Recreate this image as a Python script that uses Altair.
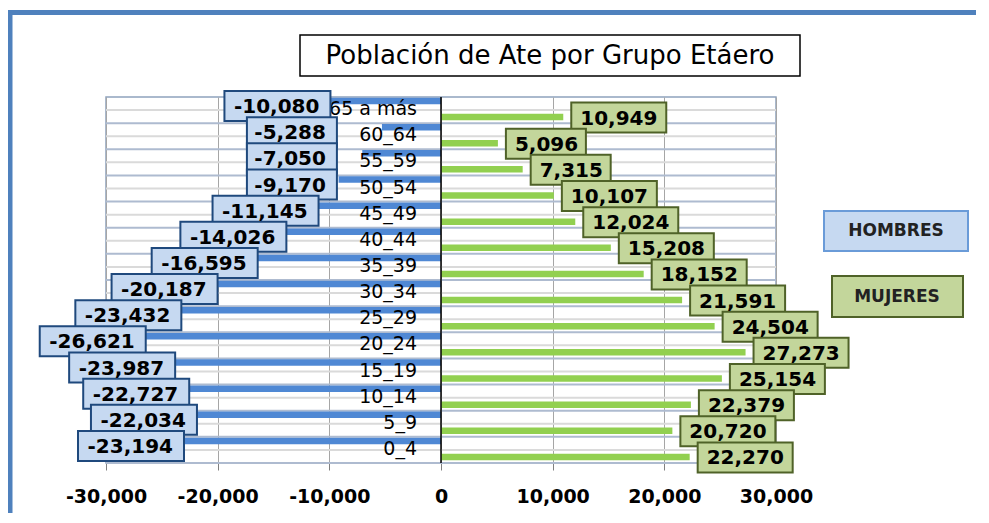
import altair as alt
import pandas as pd

# ---------------- data ----------------
cats = ["65 a más", "60_64", "55_59", "50_54", "45_49", "40_44", "35_39",
        "30_34", "25_29", "20_24", "15_19", "10_14", "5_9", "0_4"]
hombres = [-10080, -5288, -7050, -9170, -11145, -14026, -16595,
           -20187, -23432, -26621, -23987, -22727, -22034, -23194]
mujeres = [10949, 5096, 7315, 10107, 12024, 15208, 18152,
           21591, 24504, 27273, 25154, 22379, 20720, 22270]
series_names = ["HOMBRES", "MUJERES"]
x_ticks = [-30000, -20000, -10000, 0, 10000, 20000, 30000]
title_text = "Población de Ate por Grupo Etáero"

# ---------------- tables ----------------
rows = []
for c, h, m in zip(cats, hombres, mujeres):
    rows.append({"cat": c, "value": h, "series": "HOMBRES", "label": f"{h:,}", "nch": str(len(f"{h:,}"))})
    rows.append({"cat": c, "value": m, "series": "MUJERES", "label": f"{m:,}", "nch": str(len(f"{m:,}"))})
long = pd.DataFrame(rows)
cat_df = pd.DataFrame({"cat": cats})
one = pd.DataFrame({"k": [0]})

W, H = 670, 366
BAND = H / len(cats)

BLUE = "#4f88d4"
GREEN = "#92d050"
BLUE_BOX = "#c6d9f1"
BLUE_EDGE = "#1f497d"
GREEN_BOX = "#c3d69b"
GREEN_EDGE = "#4f6228"

xscale = alt.Scale(domain=[-30000, 30000], nice=False, zero=False)
xaxis = alt.Axis(
    values=x_ticks, grid=True, gridColor="#a6a6a6", gridWidth=1,
    domain=False, ticks=True, tickColor="#808080", tickSize=7,
    labelFont="DejaVu Sans", labelFontWeight="bold", labelFontSize=19,
    labelColor="black", labelPadding=17, title=None,
    labelOverlap=False, labelFlush=False,
    labelExpr="(datum.value < 0 ? '-' : '') + format(abs(datum.value), ',')",
)
xenc = alt.X("value:Q", scale=xscale, axis=xaxis)
xanchor = alt.X("anchor:Q", scale=xscale, axis=xaxis)
yenc = alt.Y("cat:N", scale=alt.Scale(domain=cats, paddingInner=0, paddingOuter=0), axis=None)

# background stripes
stripe_center = alt.Chart(cat_df).mark_rule(color="#dadada", strokeWidth=2).encode(
    y=yenc, x=alt.value(0), x2=alt.value(W)
)
stripe_edge = alt.Chart(cat_df).mark_rule(color="#aebbd0", strokeWidth=2, yOffset=BAND / 2).encode(
    y=yenc, x=alt.value(0), x2=alt.value(W)
)

bars_h = alt.Chart(long).transform_filter(alt.datum.series == "HOMBRES").mark_bar(
    height=6.5, yOffset=-9, color=BLUE
).encode(x=xenc, y=yenc)
bars_m = alt.Chart(long).transform_filter(alt.datum.series == "MUJERES").mark_bar(
    height=6.5, yOffset=7, color=GREEN
).encode(x=xenc, y=yenc)

zero_line = alt.Chart(one).mark_rule(color="black", strokeWidth=1.5).encode(x=alt.datum(0))

cat_labels = alt.Chart(cat_df).mark_text(
    align="right", baseline="middle", dx=-24, dy=-1,
    font="DejaVu Sans", fontSize=19, color="black"
).encode(x=alt.datum(0), y=yenc, text="cat:N")

hom = alt.Chart(long).transform_filter(alt.datum.series == "HOMBRES").transform_calculate(
    anchor="min(datum.value, -9500)"
)
box_h = hom.mark_point(
    filled=True, fill=BLUE_BOX, stroke=BLUE_EDGE, strokeWidth=2, opacity=1, size=400, yOffset=-4
).encode(
    x=xanchor, y=yenc,
    shape=alt.Shape("nch:N", scale=alt.Scale(
        domain=["6", "7"],
        range=["M-8.8,-1.5L0.2,-1.5L0.2,1.5L-8.8,1.5Z", "M-10.4,-1.5L0.2,-1.5L0.2,1.5L-10.4,1.5Z"]),
        legend=None),
)
text_h = hom.mark_text(
    align="right", baseline="middle", dx=-9, yOffset=-3,
    font="DejaVu Sans", fontWeight="bold", fontSize=20, color="black"
).encode(x=xanchor, y=yenc, text="label:N")

muj = alt.Chart(long).transform_filter(alt.datum.series == "MUJERES")
box_m = muj.mark_point(
    filled=True, fill=GREEN_BOX, stroke=GREEN_EDGE, strokeWidth=2, opacity=1, size=400, yOffset=7.5
).encode(
    x=xenc, y=yenc,
    shape=alt.Shape("nch:N", scale=alt.Scale(
        domain=["5", "6"],
        range=["M0.8,-1.5L8.8,-1.5L8.8,1.5L0.8,1.5Z", "M0.8,-1.5L10.3,-1.5L10.3,1.5L0.8,1.5Z"]),
        legend=None),
)
text_m = muj.mark_text(
    align="left", baseline="middle", dx=17, yOffset=8.5,
    font="DejaVu Sans", fontWeight="bold", fontSize=20, color="black"
).encode(x=xenc, y=yenc, text="label:N")

# frame, title box, legend boxes (decoration, pixel positions relative to plot)
frame_left = alt.Chart(one).mark_rule(color="#4f81bd", strokeWidth=5).encode(
    x=alt.value(-96), y=alt.value(-87), y2=alt.value(430))
frame_top = alt.Chart(one).mark_rule(color="#4f81bd", strokeWidth=5).encode(
    x=alt.value(-98), x2=alt.value(880), y=alt.value(-84.5))

title_box = alt.Chart(one).mark_rect(fill="white", stroke="black", strokeWidth=1.5).encode(
    x=alt.value(194), x2=alt.value(694), y=alt.value(-62), y2=alt.value(-21))
title_mark = alt.Chart(one).mark_text(
    font="DejaVu Sans", fontSize=26, color="black", baseline="middle", align="center"
).encode(x=alt.value(444), y=alt.value(-41), text=alt.value(title_text))

leg_h_box = alt.Chart(one).mark_rect(fill=BLUE_BOX, stroke="#6a9bd8", strokeWidth=2).encode(
    x=alt.value(718), x2=alt.value(862), y=alt.value(114), y2=alt.value(154))
leg_h_text = alt.Chart(one).mark_text(
    font="DejaVu Sans", fontWeight="bold", fontSize=17, color="#222", baseline="middle"
).encode(x=alt.value(790), y=alt.value(134), text=alt.value(series_names[0]))
leg_m_box = alt.Chart(one).mark_rect(fill=GREEN_BOX, stroke=GREEN_EDGE, strokeWidth=2).encode(
    x=alt.value(726), x2=alt.value(857), y=alt.value(179), y2=alt.value(220))
leg_m_text = alt.Chart(one).mark_text(
    font="DejaVu Sans", fontWeight="bold", fontSize=17, color="#222", baseline="middle"
).encode(x=alt.value(791), y=alt.value(200), text=alt.value(series_names[1]))

chart = alt.layer(
    stripe_center, stripe_edge, bars_h, bars_m, zero_line, cat_labels,
    box_h, box_m, text_h, text_m,
    frame_left, frame_top, title_box, title_mark,
    leg_h_box, leg_h_text, leg_m_box, leg_m_text,
).properties(
    width=W, height=H,
    autosize=alt.AutoSizeParams(type="none"),
    padding={"left": 98, "top": 89, "right": 200, "bottom": 50},
).resolve_scale(shape="independent").configure_view(
    stroke="#8fa3bd", strokeWidth=1.5
)

chart.save("out.html", embed_options={"renderer": "svg", "actions": False})
